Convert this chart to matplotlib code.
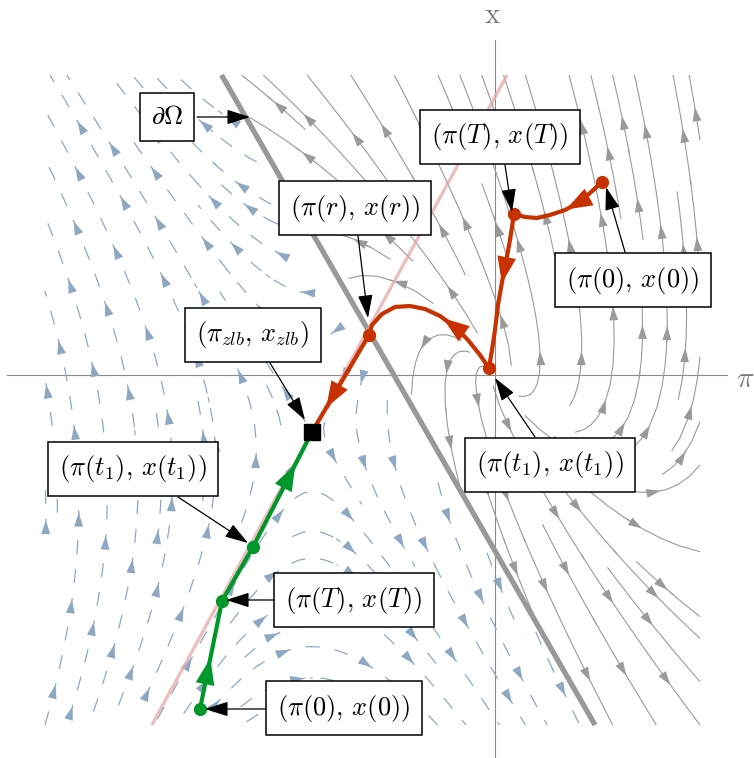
import numpy as np
import matplotlib
matplotlib.use('Agg')
import matplotlib.pyplot as plt
from matplotlib.collections import LineCollection

plt.rcParams['mathtext.fontset'] = 'cm'
plt.rcParams['font.family'] = 'serif'
plt.rcParams['font.serif'] = ['DejaVu Serif']

# model parameters (phase diagram in (pi, x))
r = 1.83
kappa = 1.0
rho = 0.311
inv_sigma = 2.78
phi_pi = 1.81
phi_x = 1.04

# plotting window of the vector fields
PI_RANGE = (-4.5, 2.05)
X_RANGE = (-3.5, 3.0)

# trajectories: pi values, x values
red_pi_1 = [1.07, 0.95, 0.83, 0.70, 0.55, 0.42, 0.30, 0.19]
red_x_1 = [1.93, 1.82, 1.72, 1.65, 1.60, 1.57, 1.58, 1.61]
red_pi_2 = [0.19, 0.15, 0.11, 0.07, 0.03, 0.00, -0.03, -0.06]
red_x_2 = [1.61, 1.35, 1.13, 0.93, 0.70, 0.45, 0.25, 0.07]
red_pi_3 = [-0.06, -0.15, -0.27, -0.40, -0.55, -0.70, -0.85, -1.00, -1.13, -1.23, -1.26]
red_x_3 = [0.07, 0.20, 0.35, 0.48, 0.59, 0.66, 0.69, 0.68, 0.61, 0.50, 0.40]
red_pi_4 = [-1.26, -1.83]
red_x_4 = [0.40, -0.57]
green_pi_1 = [-2.95, -2.73]
green_x_1 = [-3.34, -2.26]
green_pi_2 = [-2.73, -2.42, -1.83]
green_x_2 = [-2.26, -1.72, -0.57]

RED = '#c83200'
GREEN = '#00972a'
BLUE = '#8fa8c2'
GRAY = '#9a9a9a'


def field(P, X):
    zlb = r + phi_pi * P + phi_x * X < 0
    dpi = rho * P - kappa * X
    dx_taylor = inv_sigma * ((phi_pi - 1) * P + phi_x * X)
    dx_zlb = inv_sigma * (-r - P)
    return dpi, np.where(zlb, dx_zlb, dx_taylor), zlb


def arclen(xs, ys):
    return np.concatenate([[0], np.cumsum(np.hypot(np.diff(xs), np.diff(ys)))])


def head_at(ax, xs, ys, s, color, scale, hl, hw, z=5):
    xs = np.asarray(xs, float)
    ys = np.asarray(ys, float)
    cum = arclen(xs, ys)
    tx, ty = np.interp(s, cum, xs), np.interp(s, cum, ys)
    bx, by = np.interp(s - 0.03, cum, xs), np.interp(s - 0.03, cum, ys)
    ax.annotate('', xy=(tx, ty), xytext=(bx, by), zorder=z,
                arrowprops=dict(arrowstyle=f'-|>,head_length={hl},head_width={hw}',
                                color=color, lw=0, shrinkA=0, shrinkB=0,
                                mutation_scale=scale))


def chain(segments):
    # stitch streamplot segments back into whole lines
    lines = []
    cur = None
    for sg in segments:
        sg = np.asarray(sg)
        if cur is not None and np.allclose(cur[-1], sg[0]):
            cur.extend(list(sg[1:]))
        else:
            if cur is not None:
                lines.append(np.array(cur))
            cur = list(sg)
    if cur is not None:
        lines.append(np.array(cur))
    return lines


fig = plt.figure(figsize=(7.54, 7.58), dpi=100)
ax = fig.add_axes([0, 0, 1, 1])
ax.set_xlim(-4.95, 2.59)
ax.set_ylim(-3.83, 3.75)
ax.axis('off')

pi_grid = np.linspace(PI_RANGE[0], PI_RANGE[1], 260)
x_grid = np.linspace(X_RANGE[0], X_RANGE[1], 260)
P, X = np.meshgrid(pi_grid, x_grid)
U, V, zlb = field(P, X)

# right region: Taylor rule active
U_r = np.where(zlb, np.nan, U)
V_r = np.where(zlb, np.nan, V)
sp = ax.streamplot(pi_grid, x_grid, U_r, V_r, density=1.05, color=GRAY, linewidth=0.8,
                   arrowstyle='-', zorder=1)
for line in chain(sp.lines.get_segments()):
    L = arclen(line[:, 0], line[:, 1])[-1]
    n = int(round(L / 1.0))
    for k in range(n):
        head_at(ax, line[:, 0], line[:, 1], (k + 0.5) * L / n, GRAY, 10, 1.0, 0.32, z=1)

# left region: zero lower bound binding, drawn as dashed streamlines
U_l = np.where(zlb, U, np.nan)
V_l = np.where(zlb, V, np.nan)
sp_l = ax.streamplot(pi_grid, x_grid, U_l, V_l, density=1.05, color=BLUE, linewidth=0.8,
                     arrowstyle='-')
left_lines = chain(sp_l.lines.get_segments())
sp_l.lines.remove()
DASH, GAP, HEAD_EVERY = 0.14, 0.15, 3
dashes = []
for j, line in enumerate(left_lines):
    cum = arclen(line[:, 0], line[:, 1])
    L = cum[-1]
    start = (j * 0.071) % (DASH + GAP)
    k = 0
    while start < L:
        s = np.linspace(start, min(start + DASH, L), 6)
        dashes.append(np.column_stack([np.interp(s, cum, line[:, 0]),
                                       np.interp(s, cum, line[:, 1])]))
        if (k + j) % HEAD_EVERY == 1 and start + DASH < L:
            head_at(ax, line[:, 0], line[:, 1], start + DASH * 0.9, BLUE, 10, 1.0, 0.32, z=1)
        start += DASH + GAP
        k += 1
ax.add_collection(LineCollection(dashes, colors=BLUE, linewidths=0.9, zorder=1))

# axes
ax.plot([-4.88, 2.32], [0, 0], color='#8a8a8a', lw=0.8, zorder=0)
ax.plot([0, 0], [-3.83, 3.35], color='#8a8a8a', lw=0.8, zorder=0)
ax.text(-0.02, 3.60, r'$\mathrm{x}$', color='#7a7a7a', fontsize=21, ha='center', va='center')
ax.text(2.50, -0.04, r'$\pi$', color='#7a7a7a', fontsize=21, ha='center', va='center')

# boundary of the ZLB region and stable manifold
xb = np.array(X_RANGE)
ax.plot(-(r + phi_x * xb) / phi_pi, xb, color='#999999', lw=3.8, zorder=2,
        solid_capstyle='butt')
lam_s = (rho - np.sqrt(rho ** 2 + 4 * kappa * inv_sigma)) / 2
slope_s = (rho - lam_s) / kappa
pi_zlb, x_zlb = -r, -rho * r / kappa
ax.plot(pi_zlb + (xb - x_zlb) / slope_s, xb, color='#e8a8a8', lw=2.4, alpha=0.75, zorder=2,
        solid_capstyle='butt')

# trajectories
for xs, ys, f in [(red_pi_1, red_x_1, 0.46), (red_pi_2, red_x_2, 0.45),
                  (red_pi_3, red_x_3, 0.43), (red_pi_4, red_x_4, 0.75)]:
    ax.plot(xs, ys, color=RED, lw=3, zorder=4, solid_capstyle='round')
    head_at(ax, xs, ys, f * arclen(xs, ys)[-1], RED, 20, 0.95, 0.34)
for xs, ys, f in [(green_pi_1, green_x_1, 0.47), (green_pi_2, green_x_2, 0.81)]:
    ax.plot(xs, ys, color=GREEN, lw=3, zorder=4, solid_capstyle='round')
    head_at(ax, xs, ys, f * arclen(xs, ys)[-1], GREEN, 20, 0.95, 0.34)

red_pts_pi = [red_pi_1[0], red_pi_1[-1], red_pi_2[-1], red_pi_3[-1]]
red_pts_x = [red_x_1[0], red_x_1[-1], red_x_2[-1], red_x_3[-1]]
ax.plot(red_pts_pi, red_pts_x, 'o', color=RED, ms=8.5, zorder=5)
green_pts_pi = [green_pi_1[0], green_pi_1[-1], green_pi_2[1]]
green_pts_x = [green_x_1[0], green_x_1[-1], green_x_2[1]]
ax.plot(green_pts_pi, green_pts_x, 'o', color=GREEN, ms=8.5, zorder=5)
ax.plot([pi_zlb], [x_zlb], 's', color='black', ms=11, zorder=6)

# labels: text, box centre, arrow tail, arrow tip, line colour
labels = [
    (r'$\partial\Omega$', (-3.28, 2.58), (-2.98, 2.58), (-2.45, 2.58), '#666666'),
    (r'$(\pi(r),\,x(r))$', (-1.40, 1.67), (-1.37, 1.39), (-1.27, 0.57), 'black'),
    (r'$(\pi(T),\,x(T))$', (0.05, 2.38), (0.10, 2.10), (0.17, 1.63), 'black'),
    (r'$(\pi(0),\,x(0))$', (1.38, 0.95), (1.30, 1.23), (1.11, 1.88), 'black'),
    (r'$(\pi_{zlb},\,x_{zlb})$', (-2.42, 0.40), (-2.25, 0.12), (-1.90, -0.45), 'black'),
    (r'$(\pi(t_1),\,x(t_1))$', (0.55, -0.90), (0.40, -0.62), (0.00, -0.03), 'black'),
    (r'$(\pi(t_1),\,x(t_1))$', (-3.62, -0.94), (-3.17, -1.22), (-2.47, -1.68), 'black'),
    (r'$(\pi(T),\,x(T))$', (-1.41, -2.25), (-2.17, -2.25), (-2.69, -2.25), 'black'),
    (r'$(\pi(0),\,x(0))$', (-1.51, -3.33), (-2.25, -3.34), (-2.90, -3.34), 'black'),
]
for txt, c, tail, tip, lc in labels:
    ax.text(c[0], c[1], txt, fontsize=19, ha='center', va='center', zorder=8,
            bbox=dict(boxstyle='square,pad=0.42', fc='white', ec='black', lw=1.1))
    ax.annotate('', xy=tip, xytext=tail, zorder=7,
                arrowprops=dict(arrowstyle='-|>,head_length=1.1,head_width=0.35',
                                color=lc, lw=0.9, shrinkA=0, shrinkB=0,
                                mutation_scale=13, fc='black', ec='black'))

fig.savefig('out.png', dpi=100)
